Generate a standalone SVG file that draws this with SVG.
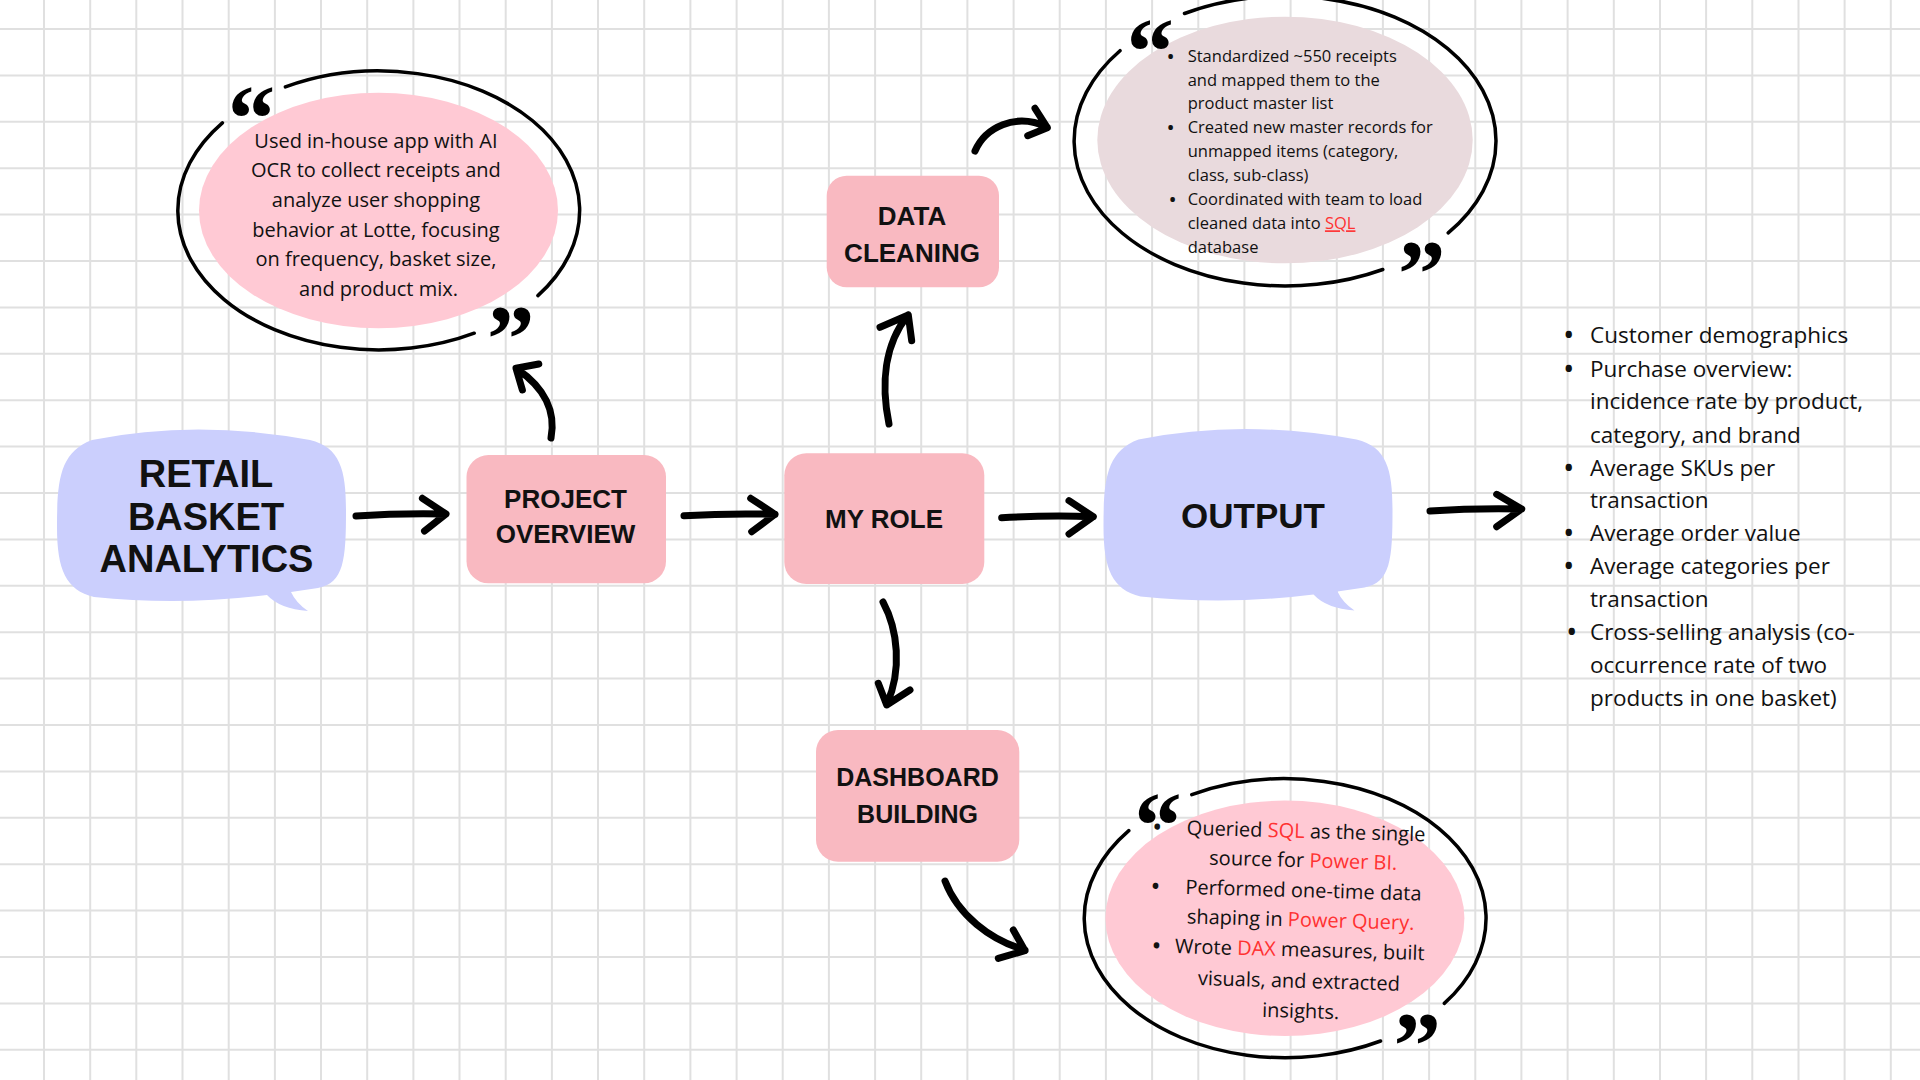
<svg xmlns="http://www.w3.org/2000/svg" xmlns:xlink="http://www.w3.org/1999/xlink" width="1920" height="1080" viewBox="0 0 1920 1080">
<style>
.grid line{stroke:#e0e0e0;stroke-width:2}
.box{fill:#f9b9c1}
.bubble{fill:#cbcffd}
.pinkfill{fill:#ffc9d4}
.greyfill{fill:#e9dadd}
.frame{fill:none;stroke:#000;stroke-width:3.5;stroke-linecap:round}
.lbl{font-family:"Liberation Sans",Arial,sans-serif;font-weight:700;fill:#111;text-anchor:middle}
.body{font-family:"Open Sans","Noto Sans",sans-serif;fill:#111}
.mid{text-anchor:middle}
.dot{font-weight:700}
.q{font-family:"Liberation Serif","Times New Roman",serif;font-weight:700;font-size:95px;fill:#000}
.red{fill:#ff3131}
.conn path{fill:none;stroke:#000;stroke-width:7;stroke-linecap:round;stroke-linejoin:round}
</style>
<defs>
<path id="bubbleShape" d="M 92,440 Q 196,419 310,440 C 340,447 346,470 346,510 C 346,560 344,583 318,588 L 291,592 Q 296,603 308,611 Q 280,609 267,595 Q 180,606 94,597 C 66,590 57,570 57,527 C 57,480 60,452 92,440 Z"/>
<g id="quoteFrame">
<ellipse class="pinkfill" cx="378.5" cy="210.5" rx="179.5" ry="117.7"/>
<path class="frame" d="M 285.4,86.9 A 201 139.5 0 0 1 537.9,295.6 M 474.2,333.2 A 201 139.5 0 0 1 222.4,122.8"/>
<text class="q" x="227.8" y="150.5">“</text>
<text class="q" x="487" y="370.5">”</text>
</g>
</defs>
<rect x="0" y="0" width="1920" height="1080" fill="#ffffff"/>
<g class="grid">
<line x1="44" y1="0" x2="44" y2="1080"/><line x1="90.2" y1="0" x2="90.2" y2="1080"/><line x1="136.3" y1="0" x2="136.3" y2="1080"/><line x1="182.5" y1="0" x2="182.5" y2="1080"/><line x1="228.7" y1="0" x2="228.7" y2="1080"/><line x1="274.9" y1="0" x2="274.9" y2="1080"/><line x1="321" y1="0" x2="321" y2="1080"/><line x1="367.2" y1="0" x2="367.2" y2="1080"/><line x1="413.4" y1="0" x2="413.4" y2="1080"/><line x1="459.5" y1="0" x2="459.5" y2="1080"/><line x1="505.7" y1="0" x2="505.7" y2="1080"/><line x1="551.9" y1="0" x2="551.9" y2="1080"/><line x1="598" y1="0" x2="598" y2="1080"/><line x1="644.2" y1="0" x2="644.2" y2="1080"/><line x1="690.4" y1="0" x2="690.4" y2="1080"/><line x1="736.6" y1="0" x2="736.6" y2="1080"/><line x1="782.7" y1="0" x2="782.7" y2="1080"/><line x1="828.9" y1="0" x2="828.9" y2="1080"/><line x1="875.1" y1="0" x2="875.1" y2="1080"/><line x1="921.2" y1="0" x2="921.2" y2="1080"/><line x1="967.4" y1="0" x2="967.4" y2="1080"/><line x1="1013.6" y1="0" x2="1013.6" y2="1080"/><line x1="1059.7" y1="0" x2="1059.7" y2="1080"/><line x1="1105.9" y1="0" x2="1105.9" y2="1080"/><line x1="1152.1" y1="0" x2="1152.1" y2="1080"/><line x1="1198.3" y1="0" x2="1198.3" y2="1080"/><line x1="1244.4" y1="0" x2="1244.4" y2="1080"/><line x1="1290.6" y1="0" x2="1290.6" y2="1080"/><line x1="1336.8" y1="0" x2="1336.8" y2="1080"/><line x1="1382.9" y1="0" x2="1382.9" y2="1080"/><line x1="1429.1" y1="0" x2="1429.1" y2="1080"/><line x1="1475.3" y1="0" x2="1475.3" y2="1080"/><line x1="1521.4" y1="0" x2="1521.4" y2="1080"/><line x1="1567.6" y1="0" x2="1567.6" y2="1080"/><line x1="1613.8" y1="0" x2="1613.8" y2="1080"/><line x1="1660" y1="0" x2="1660" y2="1080"/><line x1="1706.1" y1="0" x2="1706.1" y2="1080"/><line x1="1752.3" y1="0" x2="1752.3" y2="1080"/><line x1="1798.5" y1="0" x2="1798.5" y2="1080"/><line x1="1844.6" y1="0" x2="1844.6" y2="1080"/><line x1="1890.8" y1="0" x2="1890.8" y2="1080"/>
<line x1="0" y1="29" x2="1920" y2="29"/><line x1="0" y1="75.4" x2="1920" y2="75.4"/><line x1="0" y1="121.8" x2="1920" y2="121.8"/><line x1="0" y1="168.2" x2="1920" y2="168.2"/><line x1="0" y1="214.6" x2="1920" y2="214.6"/><line x1="0" y1="261" x2="1920" y2="261"/><line x1="0" y1="307.4" x2="1920" y2="307.4"/><line x1="0" y1="353.8" x2="1920" y2="353.8"/><line x1="0" y1="400.2" x2="1920" y2="400.2"/><line x1="0" y1="446.6" x2="1920" y2="446.6"/><line x1="0" y1="493" x2="1920" y2="493"/><line x1="0" y1="539.4" x2="1920" y2="539.4"/><line x1="0" y1="585.8" x2="1920" y2="585.8"/><line x1="0" y1="632.2" x2="1920" y2="632.2"/><line x1="0" y1="678.6" x2="1920" y2="678.6"/><line x1="0" y1="725" x2="1920" y2="725"/><line x1="0" y1="771.4" x2="1920" y2="771.4"/><line x1="0" y1="817.8" x2="1920" y2="817.8"/><line x1="0" y1="864.2" x2="1920" y2="864.2"/><line x1="0" y1="910.6" x2="1920" y2="910.6"/><line x1="0" y1="957" x2="1920" y2="957"/><line x1="0" y1="1003.4" x2="1920" y2="1003.4"/><line x1="0" y1="1049.8" x2="1920" y2="1049.8"/>
</g>

<g id="node-retail">
<use xlink:href="#bubbleShape" href="#bubbleShape" class="bubble"/>
<text class="lbl" font-size="38" x="206" y="487.3">RETAIL</text>
<text class="lbl" font-size="38" x="206" y="530">BASKET</text>
<text class="lbl" font-size="38" x="206.5" y="571.7">ANALYTICS</text>
</g>

<g id="node-project-overview">
<rect class="box" x="466.5" y="455" width="199.5" height="128.3" rx="22"/>
<text class="lbl" font-size="26" x="565.5" y="508.3">PROJECT</text>
<text class="lbl" font-size="26" x="565.5" y="543.3">OVERVIEW</text>
</g>

<g id="node-my-role">
<rect class="box" x="784.3" y="453.3" width="200" height="130.7" rx="22"/>
<text class="lbl" font-size="26" x="884" y="528.3">MY ROLE</text>
</g>

<g id="node-output">
<use xlink:href="#bubbleShape" href="#bubbleShape" class="bubble" transform="translate(1046.5,-0.5)"/>
<text class="lbl" font-size="35" x="1253" y="528.3">OUTPUT</text>
</g>

<g id="node-data-cleaning">
<rect class="box" x="826.7" y="175.7" width="172.3" height="111.6" rx="20"/>
<text class="lbl" font-size="26" x="912" y="225">DATA</text>
<text class="lbl" font-size="26" x="912" y="261.7">CLEANING</text>
</g>

<g id="node-dashboard-building">
<rect class="box" x="816" y="730" width="203.3" height="131.7" rx="22"/>
<text class="lbl" font-size="25" x="917.5" y="786">DASHBOARD</text>
<text class="lbl" font-size="25" x="917.5" y="823.3">BUILDING</text>
</g>

<g id="note-overview">
<use xlink:href="#quoteFrame" href="#quoteFrame"/>
<text class="body mid" font-size="20">
<tspan x="378.5" y="148">Used in-house app with AI</tspan>
<tspan x="378.5" y="177">OCR to collect receipts and</tspan>
<tspan x="378.5" y="207">analyze user shopping</tspan>
<tspan x="378.5" y="237">behavior at Lotte, focusing</tspan>
<tspan x="378.5" y="266">on frequency, basket size,</tspan>
<tspan x="378.5" y="296">and product mix.</tspan>
</text>
</g>

<g id="note-cleaning">
<ellipse class="greyfill" cx="1285" cy="140" rx="187.7" ry="123.3"/>
<path class="frame" d="M 1184.5,13.5 A 211 145 0 0 1 1448.2,232.9 M 1382.8,269.5 A 211 145 0 0 1 1120,50.7"/>
<text class="q" x="1126.5" y="84">“</text>
<text class="q" x="1397.9" y="306.2">”</text>
<text class="body mid dot" font-size="16.5">
<tspan x="1172.7" y="61.7">•</tspan>
<tspan x="1172.7" y="133.3">•</tspan>
<tspan x="1172.7" y="205.3">•</tspan>
</text>
<text class="body" font-size="16.5">
<tspan x="1187.7" y="61.7">Standardized ~550 receipts</tspan>
<tspan x="1187.7" y="85.7">and mapped them to the</tspan>
<tspan x="1187.7" y="109.3">product master list</tspan>
<tspan x="1187.7" y="133.3">Created new master records for</tspan>
<tspan x="1187.7" y="157.3">unmapped items (category,</tspan>
<tspan x="1187.7" y="181.3">class, sub-class)</tspan>
<tspan x="1187.7" y="205.3">Coordinated with team to load</tspan>
<tspan x="1187.7" y="229.3">cleaned data into <tspan class="red" text-decoration="underline">SQL</tspan></tspan>
<tspan x="1187.7" y="253.3">database</tspan>
</text>
</g>

<g id="note-dashboard">
<use xlink:href="#quoteFrame" href="#quoteFrame" transform="translate(906.4,707.8)"/>
<g transform="rotate(1.6,1303,928)">
<text class="body mid dot" font-size="20">
<tspan x="1157" y="838">•</tspan>
<tspan x="1157" y="897.3">•</tspan>
<tspan x="1157" y="956.7">•</tspan>
</text>
<text class="body mid" font-size="20">
<tspan x="1306" y="838">Queried <tspan class="red">SQL</tspan> as the single</tspan>
<tspan x="1304" y="867.3">source for <tspan class="red">Power BI.</tspan></tspan>
<tspan x="1305" y="897.3">Performed one-time data</tspan>
<tspan x="1303" y="926.7">shaping in <tspan class="red">Power Query.</tspan></tspan>
<tspan x="1303" y="956.7">Wrote <tspan class="red">DAX</tspan> measures, built</tspan>
<tspan x="1303" y="988">visuals, and extracted</tspan>
<tspan x="1303" y="1018">insights.</tspan>
</text>
</g>
</g>

<g id="note-output-list">
<text class="body mid dot" font-size="22.5">
<tspan x="1571.7" y="343.3">•</tspan>
<tspan x="1571.7" y="376.7">•</tspan>
<tspan x="1571.7" y="475.7">•</tspan>
<tspan x="1571.7" y="541">•</tspan>
<tspan x="1571.7" y="574">•</tspan>
<tspan x="1571.7" y="640">•</tspan>
</text>
<text class="body" font-size="22.5">
<tspan x="1590" y="343.3">Customer demographics</tspan>
<tspan x="1590" y="376.7">Purchase overview:</tspan>
<tspan x="1590" y="409.3">incidence rate by product,</tspan>
<tspan x="1590" y="442.7">category, and brand</tspan>
<tspan x="1590" y="475.7">Average SKUs per</tspan>
<tspan x="1590" y="508.3">transaction</tspan>
<tspan x="1590" y="541">Average order value</tspan>
<tspan x="1590" y="574">Average categories per</tspan>
<tspan x="1590" y="606.7">transaction</tspan>
<tspan x="1590" y="640">Cross-selling analysis (co-</tspan>
<tspan x="1590" y="672.7">occurrence rate of two</tspan>
<tspan x="1590" y="706">products in one basket)</tspan>
</text>
</g>

<g id="connectors" class="conn">
<path d="M 356,516 Q 400,513 446,514 M 422.4,498.3 L 446,514 L 424.5,531"/>
<path d="M 684,515.7 Q 730,513 775,514.3 M 750.7,498.3 L 775,514.3 L 751.7,531.7"/>
<path d="M 1001.7,517.7 Q 1050,515 1093.3,516.7 M 1069,500.7 L 1093.3,516.7 L 1069,534"/>
<path d="M 1430,511 Q 1475,508 1521.7,509 M 1496.7,494.3 L 1521.7,509 L 1496.7,526.7"/>
<path d="M 551,438 C 556,412 545,388 517,369 M 538.8,364 L 516,368.3 L 522.4,390"/>
<path d="M 889,424 C 881,385 884,345 908,315 M 880,327.3 L 908.3,315 L 911.7,340.7"/>
<path d="M 975,151 C 985,128 1015,112 1047,127 M 1035,108.3 L 1047.3,127.7 L 1027.7,135.7"/>
<path d="M 883,602 C 898,630 902,670 887,704 M 878.3,683.3 L 886.7,705 L 910,690"/>
<path d="M 945,881 C 958,915 990,940 1025,950 M 1013.3,930 L 1025,950.7 L 998.3,958.3"/>
</g>
</svg>
